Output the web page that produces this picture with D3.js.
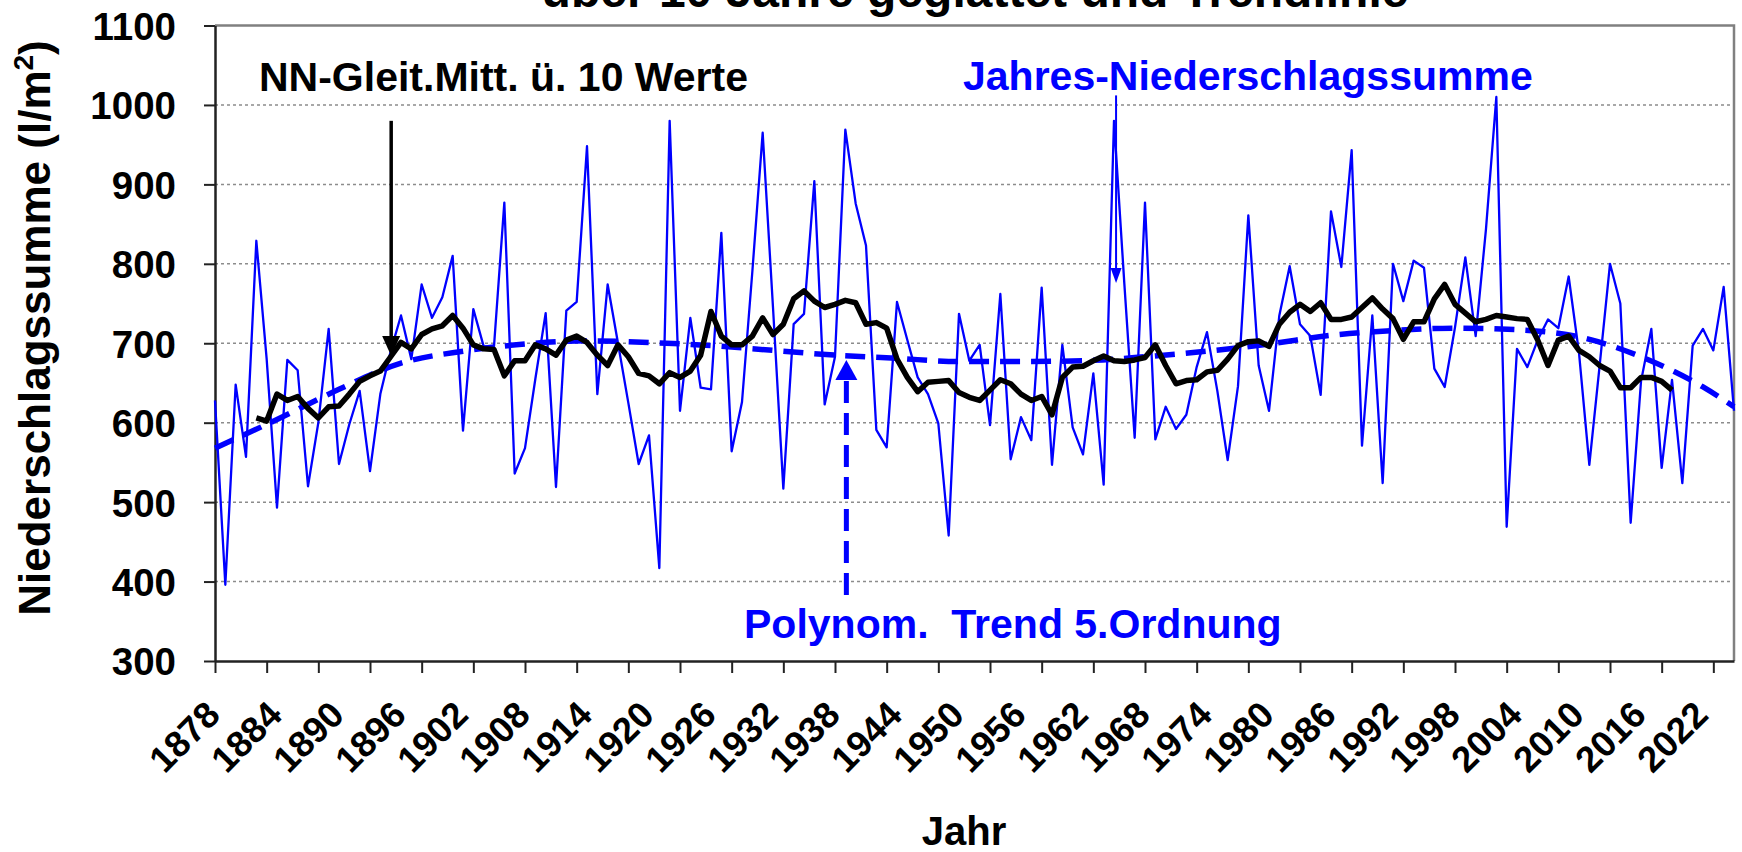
<!DOCTYPE html>
<html>
<head>
<meta charset="utf-8">
<script src="https://cdn.jsdelivr.net/npm/d3@7"></script>
<style>
  body { margin: 0; background: #fff; }
  svg { display: block; font-family: 'Liberation Sans', Arial, sans-serif; font-weight: bold; }
</style>
</head>
<body>
<svg id="chart"></svg>
<script>
// Jahres-Niederschlagssumme 1878..2025 (l/m2)
const firstYear = 1878;
const niederschlag = [
  628, 396, 648, 557, 829, 680, 493, 679, 666, 520, // 1878-1887
  600, 718, 548, 598, 640, 539, 636, 690, 735, 680, // 1888-1897
  774, 732, 758, 810, 590, 743, 696, 696, 877, 536, // 1898-1907
  568, 655, 738, 519, 741, 752, 948, 636, 774, 700, // 1908-1917
  625, 548, 584, 417, 980, 615, 732, 644, 642, 839, // 1918-1927
  564, 626, 790, 965, 745, 517, 724, 737, 904, 623, // 1928-1937
  683, 969, 876, 823, 591, 569, 752, 704, 657, 636, // 1938-1947
  599, 458, 737, 678, 698, 597, 762, 554, 607, 578, // 1948-1957
  770, 547, 698, 594, 560, 662, 522, 980, 775, 581, // 1958-1967
  877, 579, 620, 592, 610, 670, 714, 640, 553, 646, // 1968-1977
  861, 672, 615, 735, 797, 724, 709, 635, 866, 796, // 1978-1987
  943, 571, 735, 524, 800, 753, 804, 795, 668, 645, // 1988-1997
  720, 808, 709, 844, 1010, 469, 693, 670, 704, 730, // 1998-2007
  719, 784, 688, 547, 672, 800, 750, 474, 652, 718, // 2008-2017
  543, 654, 524, 697, 718, 691, 771, 615            // 2018-2025
];

// NN-Gleit.Mitt. ü. 10 Werte, 1882..2019
const maStart = 1882;
const gleitMittel = [
  606, 602, 636, 628, 633, 618, 606, 620, 621, 636, // 1882-1891
  652, 659, 665, 683, 701, 693, 711, 718, 722, 735, // 1892-1901
  719, 698, 693, 692, 659, 678, 678, 698, 693, 685, // 1902-1911
  704, 709, 701, 685, 672, 698, 683, 662, 659, 649, // 1912-1921
  663, 657, 665, 685, 740, 709, 698, 698, 709, 732, // 1922-1931
  711, 724, 756, 766, 753, 745, 749, 754, 751, 724, // 1932-1941
  726, 719, 680, 657, 639, 651, 652, 653, 638, 632, // 1942-1951
  628, 641, 654, 649, 636, 628, 633, 610, 657, 670, // 1952-1961
  671, 678, 684, 678, 677, 679, 682, 698, 672, 649, // 1962-1971
  653, 654, 664, 666, 680, 697, 702, 703, 696, 724, // 1972-1981
  739, 749, 740, 751, 730, 730, 733, 745, 757, 743, // 1982-1991
  731, 705, 727, 727, 756, 774, 749, 738, 727, 730, // 1992-2001
  735, 733, 731, 730, 704, 672, 704, 709, 691, 683, // 2002-2011
  672, 665, 644, 644, 657, 657, 652, 641            // 2012-2019
];

// Polynom. Trend 5.Ordnung
const trendYears  = [1878, 1884, 1890, 1896, 1902, 1908, 1914, 1920, 1926, 1932, 1938, 1944, 1950,
                     1956, 1962, 1968, 1974, 1980, 1986, 1992, 1998, 2004, 2010, 2016, 2022, 2025];
const trendValues = [568, 604, 642, 675, 690, 699, 703, 701, 697, 691, 685, 681, 677,
                     677, 678, 683, 690, 699, 710, 716, 719, 717, 708, 683, 645, 620];

const yTicks = [300, 400, 500, 600, 700, 800, 900, 1000, 1100];
const gridValues = [400, 500, 600, 700, 800, 900, 1000];
const tickYears = d3.range(1878, 2024, 5);
const labelYears = d3.range(1878, 2023, 6);

const width = 1742;
const height = 852;
const blue = '#0000ff';

const svg = d3.select('#chart')
  .attr('width', width)
  .attr('height', height);

svg.append('rect').attr('width', width).attr('height', height).attr('fill', '#fff');

const plot = { left: 215, right: 1734, top: 25.5, bottom: 661 };

const x = d3.scaleLinear().domain([1878, 2025]).range([plot.left, plot.right]);
const y = d3.scaleLinear().domain([300, 1100]).range([plot.bottom, plot.top]);

// gridlines
svg.append('g')
  .selectAll('line')
  .data(gridValues)
  .enter()
  .append('line')
  .attr('x1', plot.left)
  .attr('x2', plot.right)
  .attr('y1', d => y(d))
  .attr('y2', d => y(d))
  .attr('stroke', '#8c8c8c')
  .attr('stroke-width', 1.5)
  .attr('stroke-dasharray', '3,3');

// plot frame top/right (grey)
svg.append('path')
  .attr('d', `M${plot.left},${plot.top}H${plot.right}V${plot.bottom}`)
  .attr('fill', 'none')
  .attr('stroke', '#808080')
  .attr('stroke-width', 2.5);

// axes
const yAxis = svg.append('g')
  .attr('transform', `translate(${plot.left},0)`)
  .call(d3.axisLeft(y).tickValues(yTicks).tickSize(11).tickSizeOuter(0).tickPadding(28).tickFormat(d3.format('d')));
yAxis.selectAll('text')
  .attr('font-size', 38.5)
  .attr('font-family', "'Liberation Sans', Arial, sans-serif")
  .attr('font-weight', 'bold')
  .attr('fill', '#000')
  .attr('dy', '0.36em');

const xAxis = svg.append('g')
  .attr('transform', `translate(0,${plot.bottom})`)
  .call(d3.axisBottom(x).tickValues(tickYears).tickSize(12).tickSizeOuter(0).tickFormat(''));

[yAxis, xAxis].forEach(a => {
  a.select('.domain').attr('stroke', '#222').attr('stroke-width', 2.5);
  a.selectAll('.tick line').attr('stroke', '#222').attr('stroke-width', 2);
});

// rotated year labels
svg.append('g')
  .selectAll('text')
  .data(labelYears)
  .enter()
  .append('text')
  .attr('transform', d => `translate(${x(d) + 7},${plot.bottom + 56}) rotate(-45)`)
  .attr('text-anchor', 'end')
  .attr('font-size', 36.5)
  .attr('fill', '#000')
  .text(d => d);

// series
const dataPts = niederschlag.map((v, i) => [firstYear + i, v]);
const maPts = gleitMittel.map((v, i) => [maStart + i, v]);
const trendPts = trendYears.map((yr, i) => [yr, trendValues[i]]);

const line = d3.line().x(d => x(d[0])).y(d => y(d[1]));

svg.append('path')
  .datum(dataPts)
  .attr('d', line)
  .attr('fill', 'none')
  .attr('stroke', blue)
  .attr('stroke-width', 2.3)
  .attr('stroke-linejoin', 'round');

svg.append('path')
  .datum(trendPts)
  .attr('d', line.curve(d3.curveMonotoneX))
  .attr('fill', 'none')
  .attr('stroke', blue)
  .attr('stroke-width', 5.5)
  .attr('stroke-dasharray', '20,11');

svg.append('path')
  .datum(maPts)
  .attr('d', d3.line().x(d => x(d[0])).y(d => y(d[1])))
  .attr('fill', 'none')
  .attr('stroke', '#000')
  .attr('stroke-width', 5.5)
  .attr('stroke-linejoin', 'round');

// arrows: line from value v1 to tip at value v2, vertical
const arrow = (year, v1, v2, color, w, headW, headL, dash) => {
  const ax = x(year);
  const ya = y(v1);
  const yt = y(v2);
  const dir = yt > ya ? 1 : -1;
  svg.append('line')
    .attr('x1', ax).attr('x2', ax)
    .attr('y1', ya).attr('y2', yt - dir * headL * 0.8)
    .attr('stroke', color)
    .attr('stroke-width', w)
    .attr('stroke-dasharray', dash || null);
  svg.append('path')
    .attr('d', `M${ax},${yt}L${ax - headW / 2},${yt - dir * headL}L${ax + headW / 2},${yt - dir * headL}Z`)
    .attr('fill', color);
};

arrow(1895.05, 980, 684, '#000', 3.5, 18, 20);
arrow(1965.2, 1012, 776, blue, 2, 11, 15);
arrow(1939.1, 383, 679, blue, 5, 22, 20, '22,10');

// annotations
svg.append('text')
  .attr('x', 259).attr('y', 91)
  .attr('font-size', 41)
  .attr('fill', '#000')
  .text('NN-Gleit.Mitt. ü. 10 Werte');

svg.append('text')
  .attr('x', 963).attr('y', 90)
  .attr('font-size', 41)
  .attr('fill', blue)
  .text('Jahres-Niederschlagssumme');

svg.append('text')
  .attr('x', 744).attr('y', 638)
  .attr('font-size', 41)
  .attr('fill', blue)
  .style('white-space', 'pre')
  .text('Polynom.  Trend 5.Ordnung');

// titles
svg.append('text')
  .attr('x', 975).attr('y', 7)
  .attr('text-anchor', 'middle')
  .attr('font-size', 48)
  .attr('fill', '#000')
  .text('über 10 Jahre geglättet und Trendlinie');

svg.append('text')
  .attr('x', 964).attr('y', 845)
  .attr('text-anchor', 'middle')
  .attr('font-size', 40)
  .attr('fill', '#000')
  .text('Jahr');

const yTitle = svg.append('text')
  .attr('transform', 'translate(50,328) rotate(-90)')
  .attr('text-anchor', 'middle')
  .attr('font-size', 44)
  .attr('fill', '#000');
yTitle.append('tspan').text('Niederschlagssumme (l/m');
yTitle.append('tspan').attr('font-size', 28).attr('dy', -17).text('2');
yTitle.append('tspan').attr('dy', 17).text(')');
</script>
</body>
</html>
